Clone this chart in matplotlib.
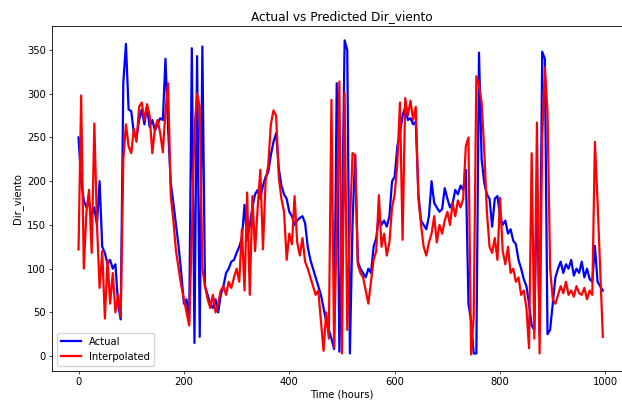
import numpy as np
import matplotlib
matplotlib.use("Agg")
import matplotlib.pyplot as plt

# hours sampled every 5h
hours = np.arange(0, 1000, 5)

actual = [
    250, 200, 178, 170, 176, 160, 170, 150, 200, 125,
    118, 105, 110, 100, 105, 60, 42, 313, 357, 282,
    280, 255, 250, 270, 282, 265, 285, 262, 270, 258,
    265, 272, 270, 340, 260, 198, 175, 150, 125, 95,
    60, 65, 40, 352, 15, 343, 22, 354, 80, 70,
    60, 55, 65, 50, 70, 80, 95, 100, 108, 110,
    118, 125, 135, 173, 133, 150, 170, 185, 190, 180,
    195, 205, 210, 230, 245, 255, 215, 195, 185, 180,
    165, 160, 150, 155, 158, 160, 152, 125, 110, 100,
    90, 80, 70, 55, 40, 30, 20, 8, 312, 5,
    145, 361, 350, 3, 152, 230, 108, 100, 95, 90,
    100, 95, 125, 135, 160, 150, 155, 148, 160, 200,
    205, 240, 255, 275, 285, 270, 272, 265, 268, 185,
    155, 150, 145, 160, 200, 175, 170, 165, 168, 192,
    180, 170, 175, 190, 185, 195, 190, 213, 60, 40,
    3, 3, 347, 225, 198, 185, 180, 148, 180, 183,
    160, 150, 155, 140, 145, 132, 128, 110, 100, 88,
    80, 60, 35, 30, 200, 25, 348, 340, 25, 30,
    60, 90, 100, 108, 95, 105, 100, 110, 92, 100,
    95, 108, 90, 100, 88, 85, 126, 85, 80, 75,
]

interpolated = [
    122, 298, 100, 165, 190, 118, 266, 150, 78, 120,
    43, 110, 60, 95, 50, 70, 45, 225, 265, 240,
    232, 260, 245, 285, 290, 270, 288, 275, 232, 260,
    270, 255, 233, 280, 312, 183, 155, 120, 100, 80,
    65, 50, 35, 140, 260, 300, 285, 100, 80, 65,
    55, 70, 50, 60, 75, 80, 70, 85, 78, 90,
    100, 85, 145, 75, 187, 70, 183, 120, 170, 213,
    122, 200, 218, 265, 281, 275, 205, 180, 165, 110,
    140, 128, 183, 130, 115, 135, 108, 100, 90, 80,
    70, 75, 40, 6, 50, 20, 293, 10, 150, 314,
    3, 301, 30, 150, 232, 230, 105, 95, 90, 75,
    60, 85, 110, 120, 184, 125, 140, 115, 130, 170,
    185, 220, 290, 133, 295, 275, 292, 270, 285, 180,
    150, 125, 115, 130, 140, 160, 130, 150, 140, 155,
    165, 150, 175, 160, 178, 170, 180, 240, 250, 2,
    45, 320, 310, 290, 235, 165, 125, 118, 135, 110,
    181, 120, 105, 125, 95, 100, 85, 90, 70, 75,
    55, 9, 232, 20, 267, 3, 250, 330, 280, 100,
    65, 60, 70, 80, 72, 85, 70, 75, 68, 80,
    72, 70, 78, 65, 75, 70, 245, 177, 100, 22,
]

plt.rcParams["font.size"] = 7.2
plt.rcParams["axes.linewidth"] = 0.6
plt.rcParams["xtick.major.size"] = 2.2
plt.rcParams["ytick.major.size"] = 2.2
plt.rcParams["xtick.major.width"] = 0.5
plt.rcParams["ytick.major.width"] = 0.5
plt.rcParams["xtick.major.pad"] = 2.2
plt.rcParams["ytick.major.pad"] = 2.2

fig = plt.figure(figsize=(6.22, 4.05), dpi=100)
ax = fig.add_axes([0.0839, 0.084, 0.931, 0.853])

ax.plot(hours, actual, color="blue", lw=1.6, label="Actual")
ax.plot(hours, interpolated, color="red", lw=1.6, label="Interpolated")

ax.set_xlim(-50, 1049)
ax.set_ylim(-17, 378)
ax.set_xticks([0, 200, 400, 600, 800, 1000])
ax.set_yticks(np.arange(0, 351, 50))

ax.set_title("Actual vs Predicted Dir_viento", fontsize=8.7, pad=4)
ax.set_xlabel("Time (hours)", labelpad=2)
ax.set_ylabel("Dir_viento", labelpad=3)
ax.legend(loc="lower left", fontsize=7.2)

fig.savefig("out.png", dpi=100)
